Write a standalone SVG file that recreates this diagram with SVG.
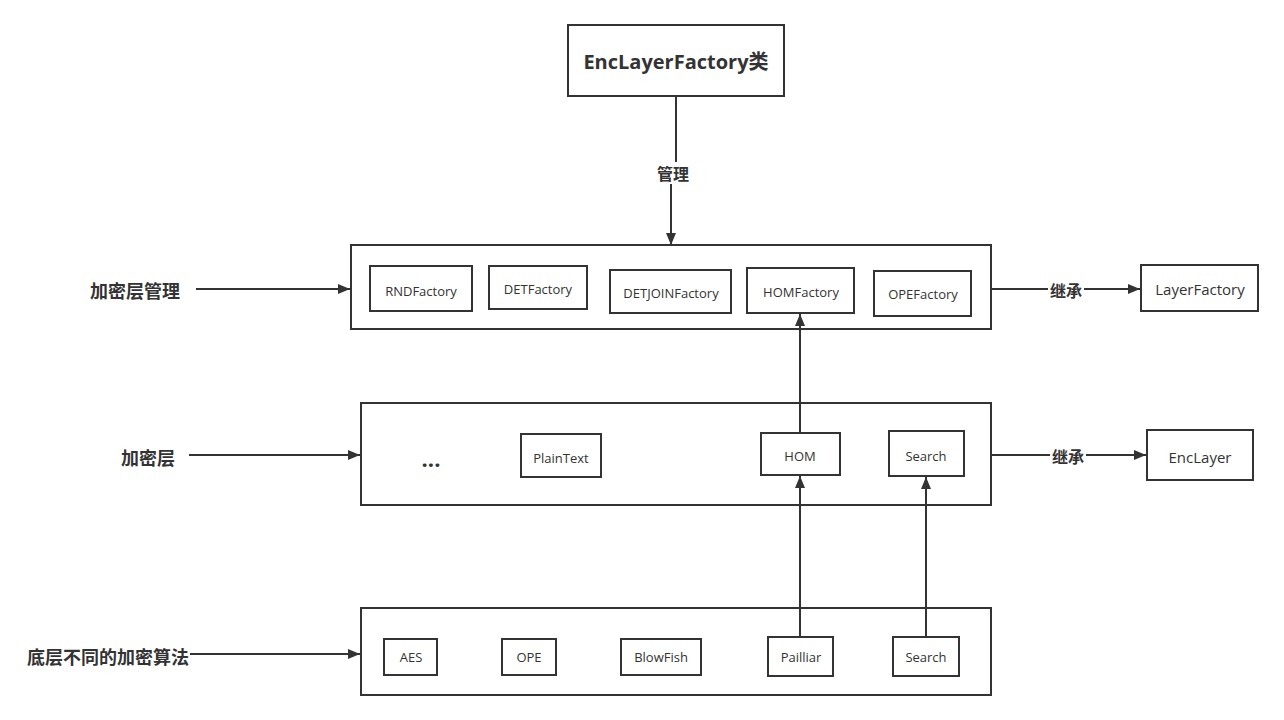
<svg xmlns="http://www.w3.org/2000/svg" width="1284" height="720" viewBox="0 0 1284 720">
<defs>
<marker id="arr" viewBox="0 0 12 10" refX="12" refY="5" markerWidth="12" markerHeight="10" markerUnits="userSpaceOnUse" orient="auto">
<path d="M0,0 L12,5 L0,10 Z" fill="#333"/>
</marker>
<style>
.box{fill:#fff;stroke:#333;stroke-width:2}
.t{font-family:"Open Sans","Noto Sans","Noto Sans CJK SC",sans-serif;font-size:13px;fill:#333;text-anchor:middle;dominant-baseline:central}
.lbl{font-family:"Noto Sans CJK SC","Noto Sans",sans-serif;font-size:18px;font-weight:bold;fill:#333;text-anchor:middle;dominant-baseline:central}
.big{font-family:"Open Sans","Noto Sans CJK SC",sans-serif;font-size:20px;font-weight:bold;fill:#333;text-anchor:middle;dominant-baseline:central}
.c{fill:none;stroke:#333;stroke-width:2}
.ca{fill:none;stroke:#333;stroke-width:2;marker-end:url(#arr)}
.bg{fill:#fff}
</style>
</defs>
<rect width="1284" height="720" fill="#fff"/>

<g id="enclayerfactory"><rect class="box" x="568" y="25" width="216" height="71"/><text class="big" x="676" y="61">EncLayerFactory类</text></g>

<g id="group-mgmt"><rect class="box" x="351" y="245" width="640" height="84"/></g>
<g id="rndfactory"><rect class="box" x="370" y="266" width="102" height="45"/><text class="t" x="421" y="291">RNDFactory</text></g>
<g id="detfactory"><rect class="box" x="489" y="266" width="98" height="43"/><text class="t" x="538" y="289">DETFactory</text></g>
<g id="detjoinfactory"><rect class="box" x="610" y="270" width="121" height="43"/><text class="t" x="671" y="293">DETJOINFactory</text></g>
<g id="homfactory"><rect class="box" x="747" y="268" width="107" height="45"/><text class="t" x="801" y="292">HOMFactory</text></g>
<g id="opefactory"><rect class="box" x="874" y="271" width="97" height="45"/><text class="t" x="923" y="294">OPEFactory</text></g>
<g id="layerfactory"><rect class="box" x="1141" y="265" width="117" height="46"/><text class="t" x="1200" y="289" style="font-size:15px">LayerFactory</text></g>

<g id="group-layer"><rect class="box" x="361" y="403" width="630" height="102"/><text x="431" y="467" style="font-family:'Open Sans',sans-serif;font-size:22px;font-weight:bold;fill:#333;text-anchor:middle">...</text></g>
<g id="plaintext"><rect class="box" x="521" y="434" width="80" height="43"/><text class="t" x="561" y="458">PlainText</text></g>
<g id="hom"><rect class="box" x="761" y="433" width="79" height="42"/><text class="t" x="800" y="456">HOM</text></g>
<g id="search1"><rect class="box" x="889" y="431" width="75" height="45"/><text class="t" x="926" y="456">Search</text></g>
<g id="enclayer"><rect class="box" x="1147" y="430" width="106" height="50"/><text class="t" x="1200" y="457" style="font-size:15px">EncLayer</text></g>

<g id="group-algo"><rect class="box" x="361" y="608" width="630" height="87"/></g>
<g id="aes"><rect class="box" x="384" y="639" width="53" height="36"/><text class="t" x="411" y="657">AES</text></g>
<g id="ope"><rect class="box" x="502" y="639" width="54" height="36"/><text class="t" x="529" y="657">OPE</text></g>
<g id="blowfish"><rect class="box" x="621" y="639" width="80" height="36"/><text class="t" x="661" y="657">BlowFish</text></g>
<g id="pailliar"><rect class="box" x="768" y="637" width="65" height="39"/><text class="t" x="801" y="657">Pailliar</text></g>
<g id="search2"><rect class="box" x="893" y="637" width="66" height="39"/><text class="t" x="926" y="657">Search</text></g>

<g id="connectors">
<path class="c" d="M676,96 L676,162"/>
<path class="ca" d="M671,184 L671,245"/>
<text class="lbl" x="673" y="173" style="font-size:16px">管理</text>
<path class="ca" d="M196,289 L350,289"/>
<path class="ca" d="M189,455 L360,455"/>
<path class="ca" d="M190,654 L360,654"/>
<path class="ca" d="M991,289 L1140,289"/>
<path class="ca" d="M991,455 L1146,455"/>
<path class="ca" d="M800,433 L800,314"/>
<path class="ca" d="M800,637 L800,476"/>
<path class="ca" d="M926,637 L926,477"/>
<rect class="bg" x="1048" y="280" width="36" height="20"/>
<text class="lbl" x="1066" y="290" style="font-size:16px">继承</text>
<rect class="bg" x="1050" y="446" width="36" height="20"/>
<text class="lbl" x="1068" y="456" style="font-size:16px">继承</text>
</g>

<g id="labels">
<text class="lbl" x="135" y="290">加密层管理</text>
<text class="lbl" x="148" y="457">加密层</text>
<text class="lbl" x="108" y="656">底层不同的加密算法</text>
</g>
</svg>
